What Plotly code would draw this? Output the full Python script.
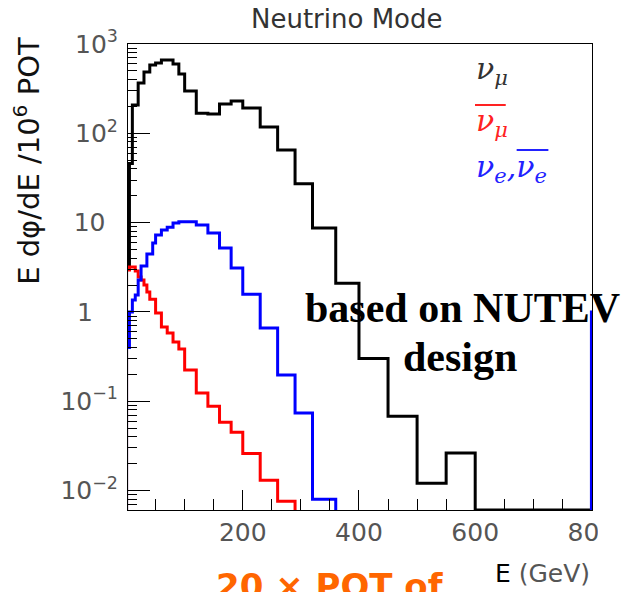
import numpy as np
import plotly.graph_objects as go

# ---------------- data ----------------
# nu_mu
numu_edges = [0, 5, 10, 20, 30, 40, 50, 60, 70, 80, 90, 100, 120, 140, 160, 180,
              200, 230, 260, 290, 320, 360, 400, 450, 500, 550, 600, 800]
numu_vals = [3.0, 46, 207, 366, 486, 582, 612, 662, 662, 597, 460, 298, 168, 164,
             213, 230, 192, 117.5, 65, 27.2, 8.7, 2.1, 0.30, 0.068, 0.0121, 0.0263, 0]
# anti nu_mu
anumu_edges = [0, 5, 10, 15, 20, 25, 30, 35, 40, 50, 60, 70, 80, 90, 100, 120,
               140, 160, 180, 200, 230, 260, 290]
anumu_vals = [2.94, 3.18, 3.18, 2.87, 2.46, 2.27, 2.0, 1.67, 1.39, 0.97, 0.68, 0.58,
              0.46, 0.385, 0.224, 0.124, 0.088, 0.058, 0.045, 0.026, 0.013, 0.0076]
# nu_e + anti nu_e
nue_edges = [0, 5, 10, 15, 20, 25, 35, 45, 50, 60, 70, 80, 90, 100, 120, 140, 160,
             180, 200, 230, 260, 290, 320, 360, 800, 820]
nue_vals = [0.40, 1.0, 1.36, 1.55, 2.27, 3.27, 4.45, 5.9, 7.25, 8.27, 8.9, 9.9, 10.2,
            10.2, 9.4, 7.65, 5.2, 3.1, 1.58, 0.66, 0.196, 0.074, 0.008, 0, 1.0]

y_tickvals = [0.01, 0.1, 1, 10, 100, 1000]
y_ticktext = ["10<sup>−2</sup>", "10<sup>−1</sup>", "1\u2002\u2002", "10\u2002",
              "10<sup>2</sup>", "10<sup>3</sup>"]
x_tickvals = [200, 400, 600, 800]

XMIN, XMAX = 2.5, 801
YMIN, YMAX = -2.218, 3.0

W, H = 627, 592
ML, MR, MT, MB = 128, 31, 44, 82
PW, PH = W - ML - MR, H - MT - MB


def px(x):
    return (x - ML) / PW


def py(y):
    return (H - MB - y) / PH


def steps(edges, vals, floor):
    e = np.asarray(edges, dtype=float)
    v = np.asarray(vals, dtype=float)
    v = np.where(v > 0, v, floor)
    xs = np.repeat(e, 2)
    ys = np.concatenate([[floor], np.repeat(v, 2), [floor]])
    return xs, ys


fig = go.Figure()
series = [
    (numu_edges, numu_vals, "#000000", 10 ** YMIN),
    (anumu_edges, anumu_vals, "#ff0000", 1e-5),
    (nue_edges, nue_vals, "#0000ff", 1e-5),
]
for edges, vals, col, floor in series:
    xs, ys = steps(edges, vals, floor)
    fig.add_trace(go.Scatter(x=xs, y=ys, mode="lines",
                             line=dict(color=col, width=3), showlegend=False,
                             hoverinfo="skip"))

tickfont = dict(family="DejaVu Sans", size=25, color="#555555")

fig.update_xaxes(range=[XMIN, XMAX], showline=True, linecolor="black", linewidth=1,
                 mirror=True, ticks="inside", ticklen=20, tickcolor="black",
                 tickvals=x_tickvals, tickfont=tickfont, showgrid=False, zeroline=False,
                 minor=dict(ticks="inside", ticklen=11, dtick=50, tickcolor="black",
                            showgrid=False))
fig.update_yaxes(type="log", range=[YMIN, YMAX], showline=True, linecolor="black",
                 linewidth=1, mirror=True, ticks="inside", ticklen=22,
                 tickcolor="black", tickvals=y_tickvals, ticktext=y_ticktext,
                 tickfont=tickfont, showgrid=False, zeroline=False, ticklabelstandoff=4,
                 minor=dict(ticks="inside", ticklen=9, dtick="D1", tickcolor="black",
                            showgrid=False))


def note(text, x, y, size, color, family="DejaVu Sans", xanchor="center",
         yanchor="middle", angle=0):
    return dict(text=text, x=px(x), y=py(y), xref="paper", yref="paper",
                xanchor=xanchor, yanchor=yanchor, showarrow=False, textangle=angle,
                font=dict(family=family, size=size, color=color))


ann = [
    note("Neutrino Mode", 349, 19, 26, "#333333"),
    note("E dφ/dE /10<sup>6</sup> POT", 26, 161, 29, "#111111", angle=-90),
    note("<span style='color:black'>E</span> (GeV)", 546, 573, 25, "#555555"),
    note("<b>20 × POT of</b>", 332, 564, 34, "#ff6600", yanchor="top"),
    note("<b>based on NUTEV</b>", 465, 308, 42, "black", family="Liberation Serif"),
    note("<b>design</b>", 463, 357, 42, "black", family="Liberation Serif"),
    note("<i>ν<sub>μ</sub></i>", 477, 70, 30, "#333333", family="DejaVu Serif",
         xanchor="left"),
    note("<i>ν<sub>μ</sub></i>", 477, 123, 30, "#ff2222", family="DejaVu Serif",
         xanchor="left"),
    note("<i>ν<sub>e</sub>,ν<sub>e</sub></i>", 477, 168, 30, "#2222ff",
         family="DejaVu Serif", xanchor="left"),
]

shapes = [
    dict(type="line", xref="paper", yref="paper", x0=px(478), x1=px(509),
         y0=py(105), y1=py(105), line=dict(color="#ff2222", width=2)),
    dict(type="line", xref="paper", yref="paper", x0=px(520), x1=px(552),
         y0=py(150), y1=py(150), line=dict(color="#2222ff", width=2)),
    dict(type="rect", xref="paper", yref="paper", x0=px(602), x1=px(627),
         y0=py(514), y1=py(560), fillcolor="white", line=dict(width=0), layer="above"),
]

fig.update_layout(width=W, height=H, margin=dict(l=ML, r=MR, t=MT, b=MB),
                  paper_bgcolor="white", plot_bgcolor="white",
                  annotations=ann, shapes=shapes, showlegend=False)

fig.write_html("out.html")
